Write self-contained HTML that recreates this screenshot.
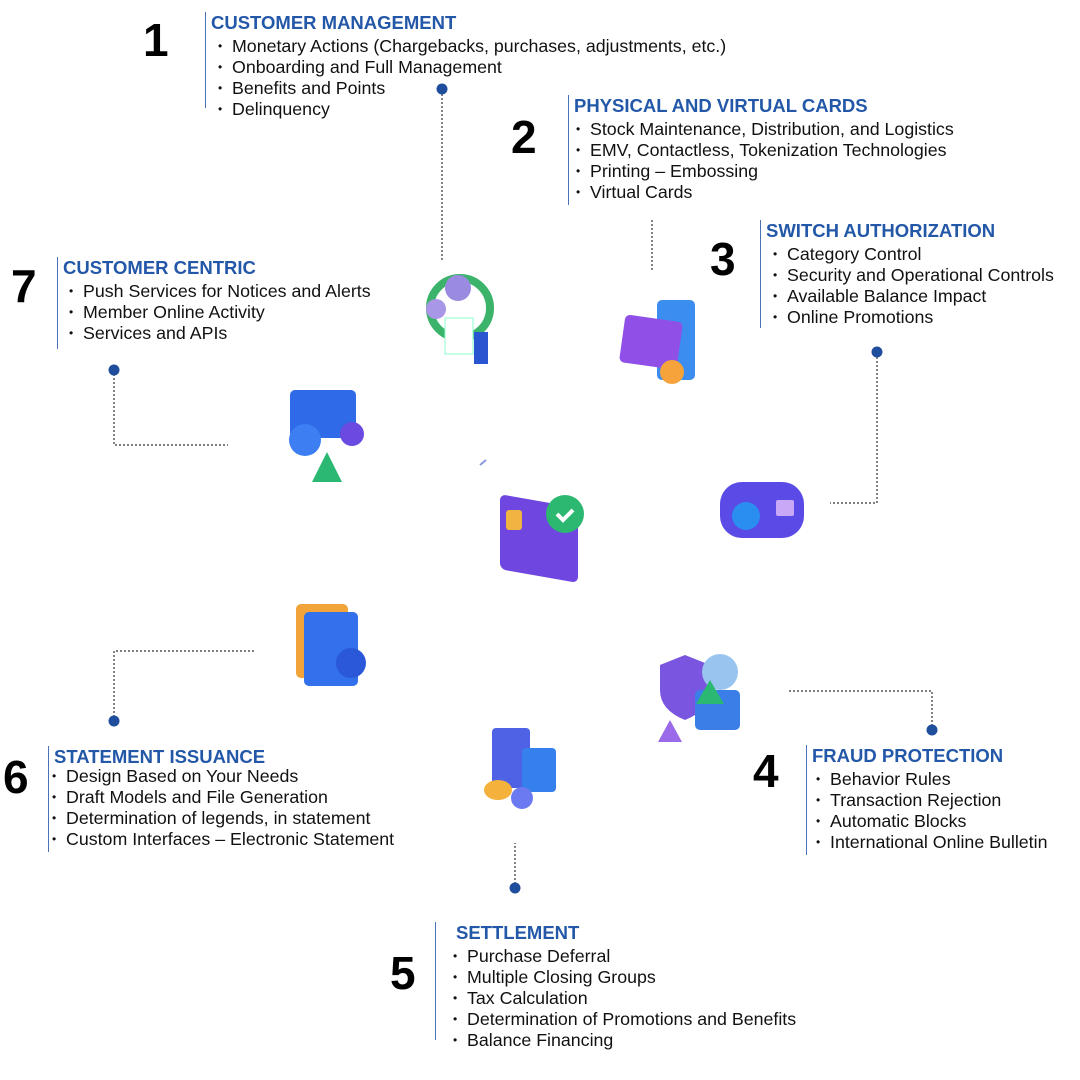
<!DOCTYPE html>
<html><head><meta charset="utf-8"><style>
body{margin:0;width:1080px;height:1080px;background:#fff;position:relative;overflow:hidden;font-family:"Liberation Sans",sans-serif;}
.blk{position:absolute;border-left:1.5px solid #4a72b8;padding-left:5px;}
.t{color:#2357a8;font-weight:bold;font-size:18.5px;line-height:22px;margin-bottom:2px;white-space:nowrap;}
.b{font-size:17.8px;line-height:21px;color:#111;padding-left:21px;position:relative;white-space:nowrap;}
.b:before{content:"•";position:absolute;margin-left:-14px;font-size:12px;}
.n{position:absolute;font-weight:bold;font-size:46px;color:#000;line-height:46px;}
svg{position:absolute;left:0;top:0;}
</style></head><body>
<svg width="1080" height="1080">
<g stroke="#333" stroke-width="1.2" stroke-dasharray="2,2" fill="none">
<path d="M442 90 V262"/><path d="M652 220 V270"/><path d="M877 353 V503 H830"/>
<path d="M114 370 V445 H228"/><path d="M114 721 V651 H255"/><path d="M932 730 V691 H788"/><path d="M515 888 V843"/>
</g>
<g fill="#1f4f9c"><circle cx="442" cy="89" r="5.5"/><circle cx="877" cy="352" r="5.5"/><circle cx="114" cy="370" r="5.5"/><circle cx="114" cy="721" r="5.5"/><circle cx="932" cy="730" r="5.5"/><circle cx="515" cy="888" r="5.5"/></g>
<g><circle cx="460" cy="308" r="30" fill="none" stroke="#3bb36a" stroke-width="8"/><circle cx="458" cy="288" r="13" fill="#9b8be0"/><rect x="445" y="318" width="28" height="36" fill="#fff" stroke="#8fc" /><rect x="474" y="332" width="14" height="32" fill="#2a55d0"/><circle cx="436" cy="309" r="10" fill="#a897e6"/></g>
<g><rect x="657" y="300" width="38" height="80" rx="5" fill="#3b8ef0"/><rect x="622" y="318" width="58" height="48" rx="5" fill="#9050e8" transform="rotate(8 650 342)"/><circle cx="672" cy="372" r="12" fill="#f5a33a"/></g>
<g><rect x="290" y="390" width="66" height="48" rx="5" fill="#2f6ae8"/><circle cx="305" cy="440" r="16" fill="#3d7ff2"/><circle cx="352" cy="434" r="12" fill="#6a4ae0"/><path d="M327 452 L342 482 L312 482Z" fill="#2bb873"/></g>
<g><rect x="500" y="498" width="78" height="75" rx="6" fill="#7046e0" transform="skewY(10) translate(0,-92)"/><rect x="506" y="510" width="16" height="20" rx="3" fill="#f2b440"/><circle cx="565" cy="514" r="19" fill="#2cb870"/><path d="M557 514 l6 6 l10 -10" stroke="#fff" stroke-width="4" fill="none"/></g>
<g><rect x="720" y="482" width="84" height="56" rx="22" fill="#5a4ae6"/><circle cx="746" cy="516" r="14" fill="#2a8ef0"/><rect x="776" y="500" width="18" height="16" rx="2" fill="#c9a8f8"/></g>
<g><rect x="296" y="604" width="52" height="74" rx="5" fill="#f2a43a"/><rect x="304" y="612" width="54" height="74" rx="5" fill="#3270ec"/><circle cx="351" cy="663" r="15" fill="#2a58d8"/></g>
<g><path d="M660 665 l25 -10 l25 10 v25 q0 20 -25 30 q-25 -10 -25 -30z" fill="#7a55e0"/><circle cx="720" cy="672" r="18" fill="#9ac4f0"/><rect x="695" y="690" width="45" height="40" rx="5" fill="#3b7ee8"/><path d="M670 720 l12 22 h-24z" fill="#9b6ae8"/><path d="M710 680 l14 24 h-28z" fill="#2bb873"/></g>
<g><rect x="492" y="728" width="38" height="60" rx="4" fill="#4f62e6"/><rect x="522" y="748" width="34" height="44" rx="4" fill="#3580ec"/><ellipse cx="498" cy="790" rx="14" ry="10" fill="#f4b23c"/><circle cx="522" cy="798" r="11" fill="#6b7af0"/></g>
<path d="M480 465 l6 -5" stroke="#8a9ad8" stroke-width="2"/>
</svg>

<div class="n" style="left:143px;top:17px">1</div>
<div class="blk" style="left:205px;top:12px;height:96px"><div class="t">CUSTOMER MANAGEMENT</div>
<div class="b">Monetary Actions (Chargebacks, purchases, adjustments, etc.)</div><div class="b">Onboarding and Full Management</div><div class="b">Benefits and Points</div><div class="b">Delinquency</div></div>

<div class="n" style="left:511px;top:114px">2</div>
<div class="blk" style="left:568px;top:95px;height:110px"><div class="t">PHYSICAL AND VIRTUAL CARDS</div>
<div class="b" style="padding-left:16px">Stock Maintenance, Distribution, and Logistics</div><div class="b" style="padding-left:16px">EMV, Contactless, Tokenization Technologies</div><div class="b" style="padding-left:16px">Printing – Embossing</div><div class="b" style="padding-left:16px">Virtual Cards</div></div>

<div class="n" style="left:710px;top:236px">3</div>
<div class="blk" style="left:760px;top:220px;height:108px"><div class="t">SWITCH AUTHORIZATION</div>
<div class="b">Category Control</div><div class="b">Security and Operational Controls</div><div class="b">Available Balance Impact</div><div class="b">Online Promotions</div></div>

<div class="n" style="left:11px;top:263px">7</div>
<div class="blk" style="left:57px;top:257px;height:92px"><div class="t">CUSTOMER CENTRIC</div>
<div class="b" style="padding-left:20px">Push Services for Notices and Alerts</div><div class="b" style="padding-left:20px">Member Online Activity</div><div class="b" style="padding-left:20px">Services and APIs</div></div>

<div class="n" style="left:3px;top:754px">6</div>
<div class="blk" style="left:48px;top:746px;height:106px"><div class="t">STATEMENT ISSUANCE</div>
<div class="b" style="margin-top:-4px;padding-left:12px">Design Based on Your Needs</div><div class="b" style="padding-left:12px">Draft Models and File Generation</div><div class="b" style="padding-left:12px">Determination of legends, in statement</div><div class="b" style="padding-left:12px">Custom Interfaces – Electronic Statement</div></div>

<div class="n" style="left:753px;top:748px">4</div>
<div class="blk" style="left:806px;top:745px;height:110px"><div class="t">FRAUD PROTECTION</div>
<div class="b" style="padding-left:18px">Behavior Rules</div><div class="b" style="padding-left:18px">Transaction Rejection</div><div class="b" style="padding-left:18px">Automatic Blocks</div><div class="b" style="padding-left:18px">International Online Bulletin</div></div>

<div class="n" style="left:390px;top:950px">5</div>
<div class="blk" style="left:435px;top:922px;height:118px;padding-left:0"><div class="t" style="padding-left:20px">SETTLEMENT</div>
<div class="b" style="padding-left:31px">Purchase Deferral</div><div class="b" style="padding-left:31px">Multiple Closing Groups</div><div class="b" style="padding-left:31px">Tax Calculation</div><div class="b" style="padding-left:31px">Determination of Promotions and Benefits</div><div class="b" style="padding-left:31px">Balance Financing</div></div>
</body></html>
